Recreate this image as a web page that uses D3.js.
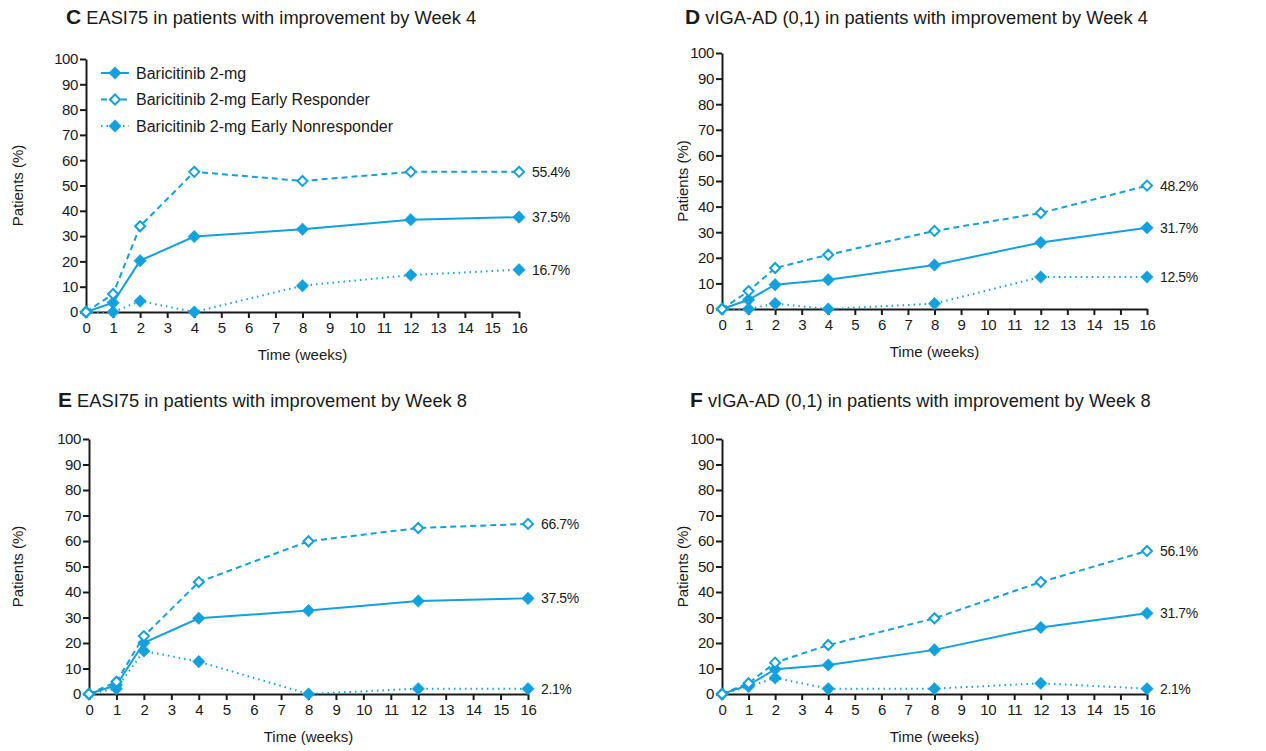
<!DOCTYPE html>
<html>
<head>
<meta charset="utf-8">
<script src="https://cdn.jsdelivr.net/npm/d3@7"></script>
<style>
  body { margin: 0; background: #fff; }
  svg { font-family: "Liberation Sans", Arial, sans-serif; }
</style>
</head>
<body>
<div id="chart"></div>
<script>
// time points (weeks) and x-axis ticks
const weeks = [0, 1, 2, 4, 8, 12, 16];
const xTicks = d3.range(0, 17);
const yTicks = d3.range(0, 101, 10);

const seriesNames = [
    "Baricitinib 2-mg",
    "Baricitinib 2-mg Early Responder",
    "Baricitinib 2-mg Early Nonresponder"
];

// C: EASI75, improvement by week 4
const easiW4All = [0, 3.7, 20.3, 29.8, 32.7, 36.5, 37.5];
const easiW4Resp = [0, 7.1, 33.9, 55.4, 51.8, 55.4, 55.4];
const easiW4Nonresp = [0, 0, 4.3, 0, 10.4, 14.6, 16.7];

// D: vIGA-AD (0,1), improvement by week 4
const vigaW4All = [0, 3.6, 9.5, 11.4, 17.2, 26.0, 31.7];
const vigaW4Resp = [0, 7.0, 16.0, 21.2, 30.5, 37.5, 48.2];
const vigaW4Nonresp = [0, 0, 2.1, 0, 2.1, 12.5, 12.5];

// E: EASI75, improvement by week 8
const easiW8All = [0, 3.5, 20.1, 29.7, 32.7, 36.5, 37.5];
const easiW8Resp = [0, 4.8, 22.7, 43.9, 59.9, 65.1, 66.7];
const easiW8Nonresp = [0, 2.1, 16.9, 12.7, 0, 2.1, 2.1];

// F: vIGA-AD (0,1), improvement by week 8
const vigaW8All = [0, 3.5, 9.7, 11.4, 17.3, 26.1, 31.7];
const vigaW8Resp = [0, 4.2, 12.3, 19.2, 29.7, 43.9, 56.1];
const vigaW8Nonresp = [0, 2.9, 6.3, 2.1, 2.1, 4.2, 2.1];

const BLUE = "#13a1dd";
const INK = "#1a1a1a";
const WIDTH = 1266, HEIGHT = 751;

// line style per series (solid / dashed / dotted)
const styles = [
    { dash: null, open: false },
    { dash: "6,4", open: true },
    { dash: "1.5,4", open: false }
];

// panel frames in pixels: axis left, right, top (100) and bottom (0)
let panels = [
    { letter: "C", title: "EASI75 in patients with improvement by Week 4",
      series: [easiW4All, easiW4Resp, easiW4Nonresp],
      left: 86, right: 519, top: 59, bottom: 312, titleX: 66, titleY: 24, labelX: 18, legend: true },
    { letter: "D", title: "vIGA-AD (0,1) in patients with improvement by Week 4",
      series: [vigaW4All, vigaW4Resp, vigaW4Nonresp],
      left: 722, right: 1147, top: 53, bottom: 309, titleX: 685, titleY: 24, labelX: 683 },
    { letter: "E", title: "EASI75 in patients with improvement by Week 8",
      series: [easiW8All, easiW8Resp, easiW8Nonresp],
      left: 89, right: 528, top: 439, bottom: 694, titleX: 58, titleY: 407, labelX: 18 },
    { letter: "F", title: "vIGA-AD (0,1) in patients with improvement by Week 8",
      series: [vigaW8All, vigaW8Resp, vigaW8Nonresp],
      left: 722, right: 1147, top: 439, bottom: 694, titleX: 690, titleY: 407, labelX: 683 }
];

let svg = d3.select("#chart").append("svg")
    .attr("width", WIDTH)
    .attr("height", HEIGHT);

let filledDiamond = d3.symbol().type(d3.symbolDiamond2).size(100);
let openDiamond = d3.symbol().type(d3.symbolDiamond2).size(64);

/**
 * Draw one marker (filled or open diamond) at x, y.
 */
function drawMarker(g, x, y, open) {
    g.append("path")
        .attr("d", open ? openDiamond() : filledDiamond())
        .attr("transform", `translate(${x},${y})`)
        .attr("fill", open ? "#fff" : BLUE)
        .attr("stroke", BLUE)
        .attr("stroke-width", open ? 2 : 0.5);
}

panels.forEach(function(p) {
    let g = svg.append("g").attr("class", `panel panel-${p.letter}`);

    let x = d3.scaleLinear().domain([0, 16]).range([p.left, p.right]);
    let y = d3.scaleLinear().domain([0, 100]).range([p.bottom, p.top]);

    // title
    let title = g.append("text")
        .attr("x", p.titleX)
        .attr("y", p.titleY)
        .attr("font-size", 18.3)
        .attr("fill", INK);
    title.append("tspan").attr("font-weight", "bold").attr("font-size", 21).text(p.letter);
    title.append("tspan").text(" " + p.title);

    // axes
    let yAxis = g.append("g")
        .attr("transform", `translate(${p.left},0)`)
        .call(d3.axisLeft(y).tickValues(yTicks).tickSize(6).tickPadding(2).tickSizeOuter(0));
    let xAxis = g.append("g")
        .attr("transform", `translate(0,${p.bottom})`)
        .call(d3.axisBottom(x).tickValues(xTicks).tickSize(6).tickPadding(4).tickSizeOuter(0));

    [xAxis, yAxis].forEach(function(ax) {
        ax.select(".domain").attr("stroke", INK).attr("stroke-width", 2);
        ax.selectAll(".tick line").attr("stroke", INK).attr("stroke-width", 2);
        ax.selectAll(".tick text")
            .attr("font-size", 15)
            .attr("fill", INK)
            .attr("letter-spacing", -0.4)
            .attr("font-family", "Liberation Sans, Arial, sans-serif");
    });

    // axis titles
    g.append("text")
        .attr("transform", `translate(${p.labelX},${(p.top + p.bottom) / 2}) rotate(-90)`)
        .attr("text-anchor", "middle")
        .attr("dy", "0.35em")
        .attr("font-size", 15)
        .attr("fill", INK)
        .text("Patients (%)");
    g.append("text")
        .attr("x", (p.left + p.right) / 2)
        .attr("y", p.bottom + 48)
        .attr("text-anchor", "middle")
        .attr("font-size", 15)
        .attr("fill", INK)
        .text("Time (weeks)");

    let line = d3.line()
        .x((d, i) => x(weeks[i]))
        .y(d => y(d));

    // draw nonresponders first so the other lines sit on top
    [2, 0, 1].forEach(function(si) {
        let values = p.series[si];
        let st = styles[si];
        let sg = g.append("g").attr("class", `series series-${si}`);

        sg.append("path")
            .datum(values)
            .attr("d", line)
            .attr("fill", "none")
            .attr("stroke", BLUE)
            .attr("stroke-width", 2)
            .attr("stroke-dasharray", st.dash);

        values.forEach(function(v, i) {
            drawMarker(sg, x(weeks[i]), y(v), st.open);
        });

        // end-value label
        let last = values[values.length - 1];
        sg.append("text")
            .attr("x", x(16) + 13)
            .attr("y", y(last))
            .attr("dy", "0.35em")
            .attr("font-size", 14)
            .attr("letter-spacing", -0.4)
            .attr("fill", INK)
            .text(d3.format(".1f")(last) + "%");
    });

    if (p.legend) {
        let lg = g.append("g").attr("class", "legend");
        seriesNames.forEach(function(name, i) {
            let ly = 73 + i * 26.5;
            let st = styles[i];
            lg.append("line")
                .attr("x1", 101).attr("x2", 129)
                .attr("y1", ly).attr("y2", ly)
                .attr("stroke", BLUE)
                .attr("stroke-width", 2)
                .attr("stroke-dasharray", st.dash);
            drawMarker(lg, 115, ly, st.open);
            lg.append("text")
                .attr("x", 136)
                .attr("y", ly)
                .attr("dy", "0.35em")
                .attr("font-size", 16)
                .attr("fill", INK)
                .text(name);
        });
    }
});
</script>
</body>
</html>
